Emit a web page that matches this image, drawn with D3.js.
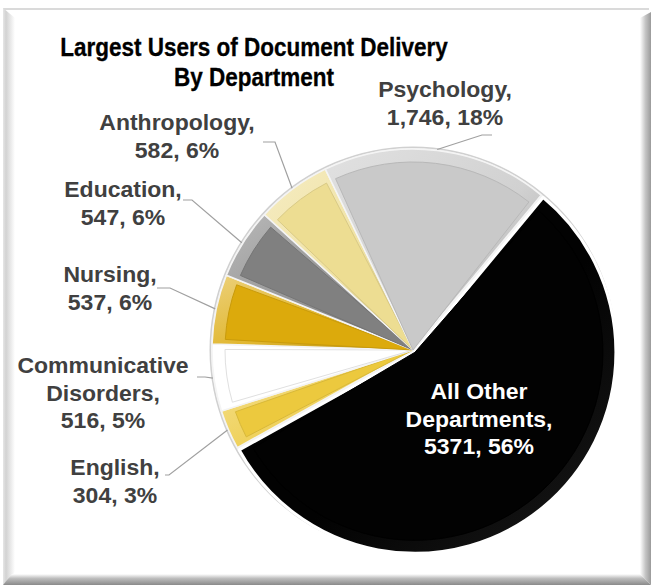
<!DOCTYPE html>
<html>
<head>
<meta charset="utf-8">
<script src="https://cdn.jsdelivr.net/npm/d3@7"></script>
<style>
  html, body { margin: 0; padding: 0; background: #fff; }
  svg { display: block; }
  text { font-family: "Liberation Sans", Arial, sans-serif; font-weight: bold; }
</style>
</head>
<body>
<svg id="chart" width="651" height="585"></svg>
<script>
// ---- data ----
const categories = ["All Other Departments", "English", "Communicative Disorders", "Nursing", "Education", "Anthropology", "Psychology"];
const values = [5371, 304, 516, 537, 547, 582, 1746];
const valueLabels = ["5371", "304", "516", "537", "547", "582", "1,746"];
const nameLines = [["All Other", "Departments,"], ["English,"], ["Communicative", "Disorders,"], ["Nursing,"], ["Education,"], ["Anthropology,"], ["Psychology,"]];
const colors = ["#020202", "#ecc93e", "#ffffff", "#dcaa0c", "#808080", "#eddd92", "#c9c9c9"];
const titleLines = ["Largest Users of Document Delivery", "By Department"];

// ---- layout ----
const W = 651, H = 585;
const cx = 413, cy = 350, R = 201;
const startDeg = 39.6;
const labelLayout = [
  { x: 479, y: 399, color: "#ffffff", inside: true },
  { x: 115, y: 475, color: "#404040", lead: [[165, 475], [169, 475]] },
  { x: 103, y: 373, color: "#404040", lead: [[197, 377], [205, 377]] },
  { x: 110, y: 282, color: "#404040", lead: [[157, 288], [170, 288]] },
  { x: 123, y: 197, color: "#404040", lead: [[183, 200], [192, 200]] },
  { x: 177, y: 130, color: "#404040", lead: [[263, 142], [275, 142]] },
  { x: 445, y: 97, color: "#404040", lead: [[492, 135], [482, 135]] }
];
const lineH = 27.6;

const svg = d3.select("#chart");
const defs = svg.append("defs");

// ---- frame ----
svg.append("rect").attr("width", W).attr("height", H).attr("fill", "#ffffff");
function lg(id, x1, y1, x2, y2, stops) {
  const g = defs.append("linearGradient").attr("id", id)
    .attr("x1", x1).attr("y1", y1).attr("x2", x2).attr("y2", y2);
  stops.forEach(s => g.append("stop").attr("offset", s[0]).attr("stop-color", s[1]));
}
lg("gLeft", 0, 0, 1, 0, [[0, "#e6e6e6"], [0.25, "#d2d2d2"], [1, "#ffffff"]]);
lg("gRight", 0, 0, 1, 0, [[0, "#ffffff"], [0.5, "#c4c4c4"], [1, "#9a9a9a"]]);
lg("gBottom", 0, 0, 0, 1, [[0, "#ffffff"], [0.4, "#bdbdbd"], [1, "#8a8a8a"]]);
svg.append("rect").attr("x", 3).attr("y", 8).attr("width", 646).attr("height", 2).attr("fill", "#dadada");
svg.append("path").attr("d", "M3,8 L15,18 L15,572 L3,585 Z").attr("fill", "url(#gLeft)");
svg.append("path").attr("d", "M640,18 L651,12 L651,585 L640,574 Z").attr("fill", "url(#gRight)");
svg.append("path").attr("d", "M12,574 L640,574 L651,585 L3,585 Z").attr("fill", "url(#gBottom)");

// ---- title ----
const title = svg.append("g").attr("transform", "translate(254,0) scale(0.9,1)");
titleLines.forEach((t, i) => {
  title.append("text").attr("x", 0).attr("y", 56 + i * 30)
    .attr("text-anchor", "middle").attr("font-size", 25).attr("fill", "#000")
    .attr("stroke", "#000").attr("stroke-width", 0.3).text(t);
});

// ---- pie ----
const total = d3.sum(values);
const pie = d3.pie().sort(null)
  .startAngle(startDeg * Math.PI / 180)
  .endAngle(startDeg * Math.PI / 180 + 2 * Math.PI);
const arcs = pie(values);
const arcOuter = d3.arc().innerRadius(0).outerRadius(R);
const arcFace = d3.arc().innerRadius(0).outerRadius(R - 13).padRadius(R).padAngle(0.05);

// gradient per slice for bevel
colors.forEach((c, i) => {
  const base = d3.color(c);
  const light = d3.interpolateRgb(c, "#ffffff")(i === 0 ? 0.0 : 0.45);
  const dark = i === 0 ? "#1a1a1a" : (i === 2 ? "#c8c8c8" : base.darker(0.6).formatHex());
  lg("bev" + i, 0, 0, 1, 1, [[0, light], [0.55, d3.interpolateRgb(c, "#ffffff")(i === 0 ? 0 : 0.15)], [1, dark]]);
});

const gPie = svg.append("g").attr("transform", `translate(${cx},${cy})`);

// outer rim
gPie.append("circle").attr("r", R + 2.5).attr("fill", "#d0d0d0");
gPie.append("circle").attr("r", R + 1).attr("fill", "#f2f2f2");

const slices = gPie.selectAll("g.slice").data(arcs).enter().append("g")
  .attr("class", "slice")
  .attr("transform", (d, i) => {
    if (i !== 0) return null;
    const m = (d.startAngle + d.endAngle) / 2;
    return `translate(${3 * Math.sin(m)},${-3 * Math.cos(m)})`;
  });

slices.append("path")
  .attr("d", arcOuter)
  .attr("fill", (d, i) => `url(#bev${i})`)
  .attr("stroke", (d, i) => i === 0 ? "#ffffff" : "#f4f4f4")
  .attr("stroke-width", (d, i) => i === 0 ? 3 : 1.5)
  .attr("stroke-linejoin", "round");

slices.append("path")
  .attr("d", arcFace)
  .attr("fill", (d, i) => colors[i])
  .attr("stroke", (d, i) => i === 0 ? "#000" : (i === 2 ? "#e0e0e0" : d3.color(colors[i]).darker(0.25).formatHex()))
  .attr("stroke-width", 1);

// ---- labels ----
const gLab = svg.append("g");
arcs.forEach((d, i) => {
  const L = labelLayout[i];
  const pct = Math.round(values[i] / total * 100) + "%";
  const lines = nameLines[i].concat([valueLabels[i] + ", " + pct]);
  const g = gLab.append("g").attr("transform", `translate(${L.x},0) scale(1.07,1)`);
  lines.forEach((t, j) => {
    g.append("text").attr("x", 0).attr("y", L.y + j * lineH)
      .attr("text-anchor", "middle").attr("font-size", 21.5)
      .attr("fill", L.color).text(t);
  });
  if (L.lead) {
    const m = (d.startAngle + d.endAngle) / 2;
    const end = [cx + (R + 1) * Math.sin(m), cy - (R + 1) * Math.cos(m)];
    const pts = L.lead.concat([end]);
    gLab.append("path").attr("d", d3.line()(pts))
      .attr("fill", "none").attr("stroke", "#a0a0a0").attr("stroke-width", 1.2);
  }
});
</script>
</body>
</html>
